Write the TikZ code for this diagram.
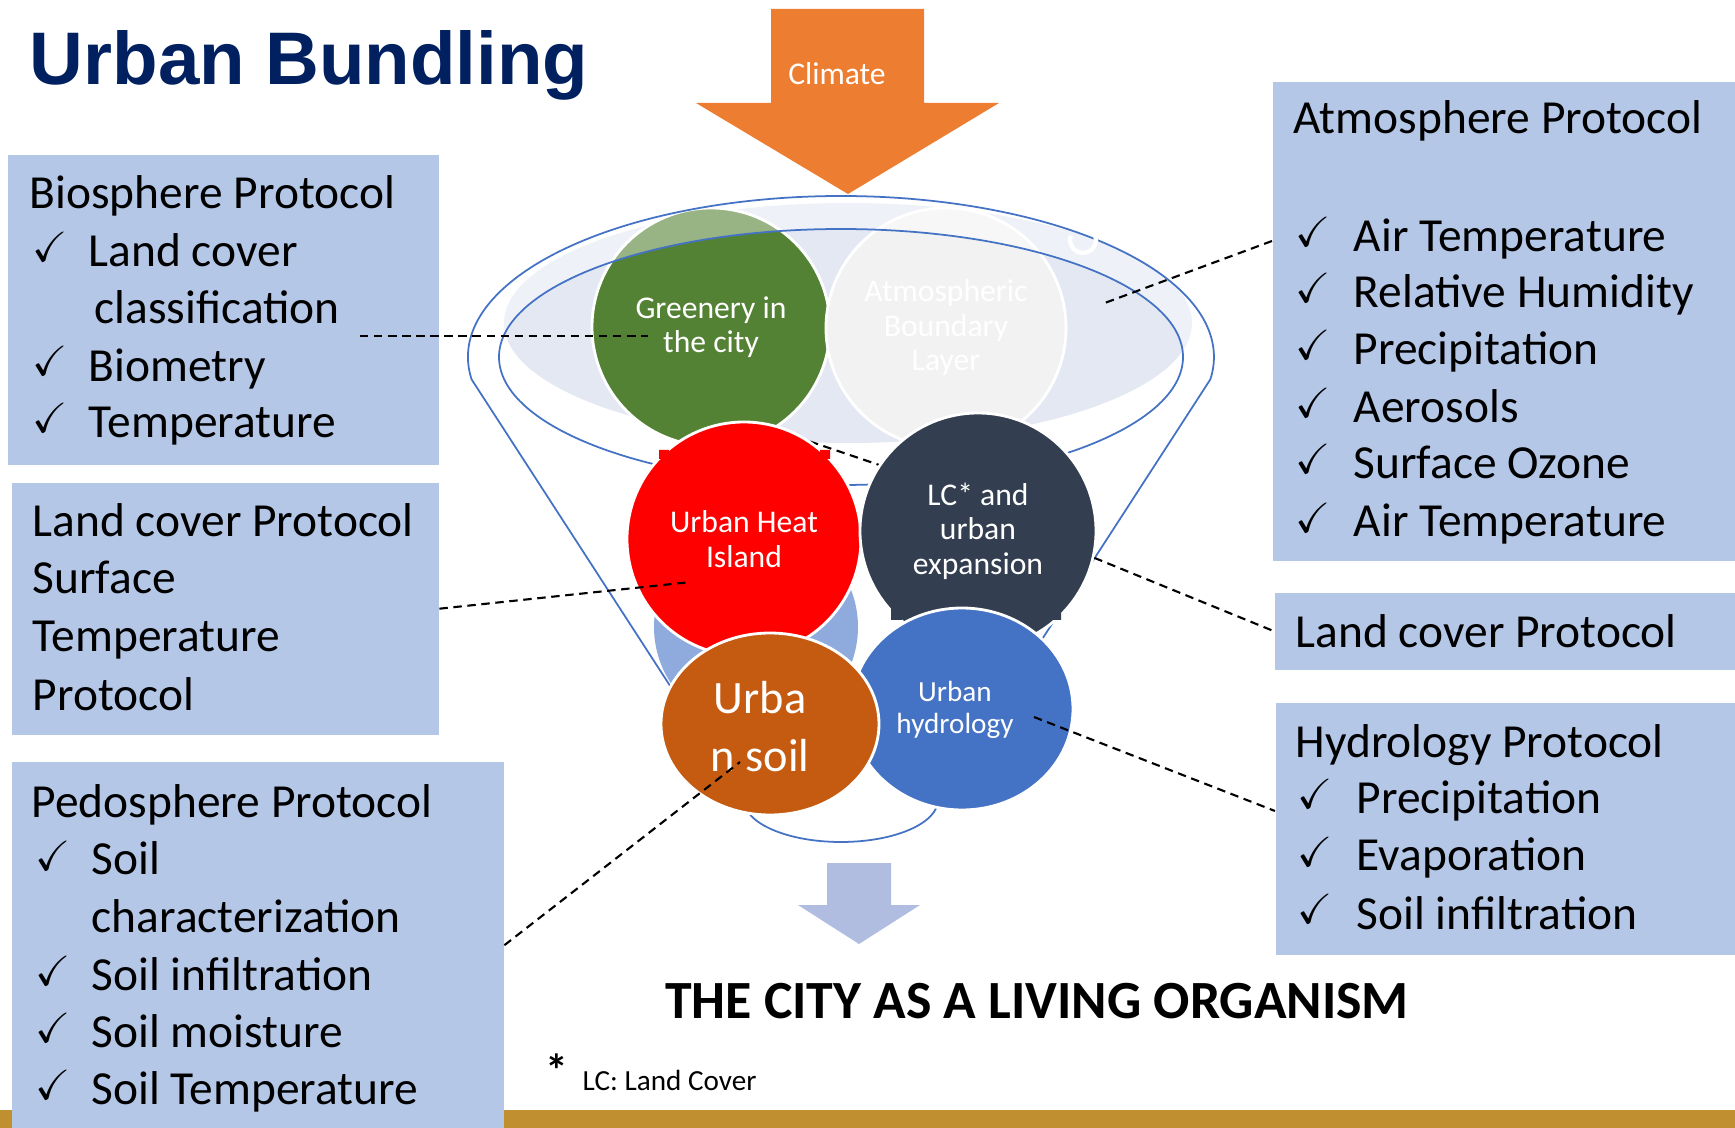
\documentclass[tikz,border=0pt]{standalone}
\usepackage{amssymb}
\usepackage{fontspec}
\setmainfont{Carlito}
\newfontfamily\titlefont{Liberation Sans}
\usetikzlibrary{shapes.geometric}

\definecolor{boxblue}{HTML}{B4C7E7}
\definecolor{titleblue}{HTML}{002060}
\definecolor{climorange}{HTML}{ED7D31}
\definecolor{goldbar}{HTML}{BF8F30}
\definecolor{arrowblue}{HTML}{B0BDE0}
\definecolor{leafgreen}{HTML}{548235}
\definecolor{slate}{HTML}{333F50}
\definecolor{rust}{HTML}{C55A11}
\definecolor{waterblue}{HTML}{4472C4}
\definecolor{skyblue}{HTML}{8FAADC}
\definecolor{mist}{HTML}{F2F2F2}
\definecolor{pale}{HTML}{E4E8F3}

\begin{document}
\begin{tikzpicture}[x=0.1mm,y=-0.1mm,
  bub/.style={circle,draw=white,line width=0.8pt,inner sep=0pt,text=white,align=center,font=\fontsize{9}{9.8}\selectfont},
  bubtxt/.style={inner sep=0pt,text=white,align=center},
  pbox/.style={rectangle,fill=boxblue,inner sep=0pt,anchor=north west},
  txt/.style={anchor=base west,inner sep=0pt,font=\fontsize{13.5}{16}\selectfont},
  chk/.style={anchor=base west,inner sep=0pt,font=\fontsize{12}{12}\selectfont},
  link/.style={line width=0.6pt,dash pattern=on 2.4pt off 1.6pt}]
\useasboundingbox (0,0) rectangle (1735,1128);
\fill[white] (0,0) rectangle (1735,1128);
\fill[goldbar] (0,1110) rectangle (1735,1128);

% protocol boxes
\node[pbox,minimum width=43.1mm,minimum height=31mm] (bio) at (7,154) {};
\node[pbox,minimum width=42.7mm,minimum height=25.2mm] (lcst) at (11,482) {};
\node[pbox,minimum width=49.2mm,minimum height=36.7mm] (pedo) at (11,761) {};
\node[pbox,minimum width=46.3mm,minimum height=47.9mm] (atmo) at (1272,81) {};
\node[pbox,minimum width=46.1mm,minimum height=7.7mm] (lcr) at (1274,592) {};
\node[pbox,minimum width=46mm,minimum height=25.2mm] (hydro) at (1275,702) {};

\node[txt] (biohead) at (29,209) {Biosphere Protocol};
\foreach \y/\t [count=\i] in {267/Land cover,381/Biometry,438/Temperature}
{
	\node[chk] (biock\i) at (32,\y-5) {\checkmark};
	\node[txt] (bioitem\i) at (88,\y) {\t};
}
\node[txt] (biocont) at (94,324) {classification};

\foreach \y/\t [count=\i] in {537/Land cover Protocol,594/Surface,652/Temperature,710/Protocol}
	\node[txt] (lcstline\i) at (32,\y) {\t};

\node[txt] (pedohead) at (31,817) {Pedosphere Protocol};
\foreach \y/\t [count=\i] in {875/Soil,990/Soil infiltration,1047/Soil moisture,1104/Soil Temperature}
{
	\node[chk] (pedock\i) at (35,\y-5) {\checkmark};
	\node[txt] (pedoitem\i) at (91,\y) {\t};
}
\node[txt] (pedocont) at (91,932) {characterization};

\node[txt] (atmohead) at (1293,134) {Atmosphere Protocol};
\foreach \y/\t [count=\i] in {252/Air Temperature,308/Relative Humidity,365/Precipitation,423/Aerosols,479/Surface Ozone,537/Air Temperature}
{
	\node[chk] (atmock\i) at (1295,\y-5) {\checkmark};
	\node[txt] (atmoitem\i) at (1353,\y) {\t};
}

\node[txt] (lcrtext) at (1295,647) {Land cover Protocol};

\node[txt] (hydrohead) at (1295,757) {Hydrology Protocol};
\foreach \y/\t [count=\i] in {813/Precipitation,871/Evaporation,929/Soil infiltration}
{
	\node[chk] (hydrock\i) at (1297,\y-5) {\checkmark};
	\node[txt] (hydroitem\i) at (1356,\y) {\t};
}

% funnel
\fill[pale] (848,323) ellipse [x radius=344,y radius=120];
\node[bub,fill=leafgreen,minimum size=23.8mm] (green) at (711,327) {Greenery in\\the city};
\node[bub,fill=mist,minimum size=24mm] (abl) at (946,328) {Atmospheric\\Boundary\\Layer};
\path[fill=white,fill opacity=0.4,even odd rule] (471.6,379.4) arc[start angle=172,end angle=368,x radius=373,y radius=161]
	-- (938,800) arc[start angle=0,end angle=180,x radius=97,y radius=42] -- cycle
	(841,357) ellipse [x radius=342,y radius=128];
\draw[waterblue,line width=0.5pt] (471.6,379.4) arc[start angle=172,end angle=368,x radius=373,y radius=161]
	-- (938,800) arc[start angle=0,end angle=180,x radius=97,y radius=42] -- cycle;
\draw[waterblue,line width=0.5pt] (841,357) ellipse [x radius=342,y radius=128];
\draw[white,line width=1.2pt] (1083,240) ++(-20:13) arc[start angle=-20,end angle=200,radius=13];

\coordinate (uhiback) at (770,428);
\coordinate (lcxback) at (900,472);
\draw[link] (uhiback) -- (lcxback);

\node[circle,fill=skyblue,minimum size=20.4mm,inner sep=0pt] (lb) at (756,627) {};
\node[bub,fill=red,minimum size=23.4mm] (uhi) at (744,539) {Urban Heat\\Island};
\fill[red] (659,450) rectangle (669,459) (820,450) rectangle (830,459);
\node[bub,fill=slate,minimum size=23.6mm] (lcx) at (978,531) {LC* and\\urban\\expansion};
\fill[slate] (891,607) rectangle (902,620) (1050,607) rectangle (1061,620);
\node[bub,ellipse,fill=waterblue,minimum width=22.2mm,minimum height=20.2mm] (hyd) at (962,709) {};
\node[bub,ellipse,fill=rust,minimum width=21.8mm,minimum height=18.2mm] (soil) at (770,724) {};
\node[bubtxt,font=\fontsize{8.3}{8.9}\selectfont] (hydtext) at (955,710) {Urban\\hydrology};
\node[bubtxt,font=\fontsize{13.2}{16.5}\selectfont] (soiltext) at (760,727) {Urba\\n soil};

% dashed links
\coordinate (biotip) at (360,336);
\coordinate (greentip) at (648,336);
\coordinate (uhitip) at (691,582);
\coordinate (soiltip) at (740,762);
\coordinate (atmoin) at (1272,241);
\coordinate (abltip) at (1102,304);
\coordinate (hydtip) at (1034,717);
\coordinate (hydroin) at (1275,811);
\draw[link] (biotip) -- (greentip);
\draw[link] (lcst.east) -- (uhitip);
\draw[link] (pedo.east) -- (soiltip);
\draw[link] (atmoin) -- (abltip);
\draw[link] (lcx.-13) -- (lcr.west);
\draw[link] (hydtip) -- (hydroin);

% arrows
\fill[climorange] (771,9) -- (924,9) -- (924,103) -- (999,103) -- (848,194) -- (696,103) -- (771,103) -- cycle;
\node[anchor=base,inner sep=0pt,text=white,font=\fontsize{9}{9}\selectfont] (climate) at (837,85) {Climate};
\fill[arrowblue] (827,863) -- (891,863) -- (891,905) -- (920,905) -- (859,944) -- (798,905) -- (827,905) -- cycle;

% texts
\node[anchor=base west,inner sep=0pt,text=titleblue,font=\titlefont\bfseries\fontsize{21.2}{25}\selectfont] (title) at (29,85) {Urban Bundling};
\node[anchor=base,inner sep=0pt,font=\bfseries\fontsize{15.3}{18}\selectfont] (organism) at (1037,1018) {THE CITY AS A LIVING ORGANISM};
\node[anchor=base,inner sep=0pt,font=\bfseries\fontsize{13}{13}\selectfont] (star) at (557,1086) {*};
\node[anchor=base west,inner sep=0pt,font=\fontsize{8.3}{10}\selectfont] (lcnote) at (582,1090) {LC: Land Cover};
\end{tikzpicture}
\end{document}
